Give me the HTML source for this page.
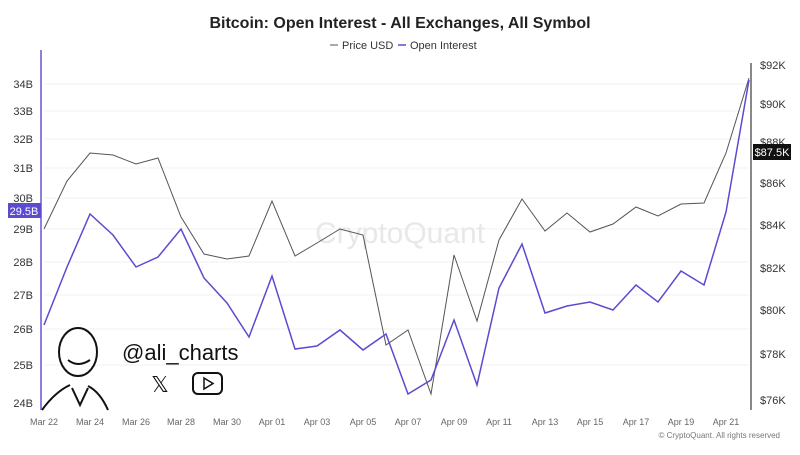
<!DOCTYPE html>
<html><head><meta charset="utf-8"><style>
body{margin:0;background:#fff;width:800px;height:450px;overflow:hidden;font-family:"Liberation Sans",sans-serif}
</style></head><body>
<svg width="800" height="450" xmlns="http://www.w3.org/2000/svg" font-family="Liberation Sans, sans-serif">
<text x="400" y="28" text-anchor="middle" font-size="16" font-weight="bold" fill="#222">Bitcoin: Open Interest - All Exchanges, All Symbol</text>
<line x1="330" y1="45" x2="338" y2="45" stroke="#555" stroke-width="1"/>
<text x="342" y="49" font-size="11" fill="#333">Price USD</text>
<line x1="398" y1="45" x2="406" y2="45" stroke="#5a4bd1" stroke-width="1.5"/>
<text x="410" y="49" font-size="11" fill="#333">Open Interest</text>
<g stroke="#f0f0f0" stroke-width="1">
<line x1="44" x2="749" y1="84" y2="84"/><line x1="44" x2="749" y1="111" y2="111"/><line x1="44" x2="749" y1="139" y2="139"/><line x1="44" x2="749" y1="168" y2="168"/><line x1="44" x2="749" y1="198" y2="198"/><line x1="44" x2="749" y1="229" y2="229"/><line x1="44" x2="749" y1="262" y2="262"/><line x1="44" x2="749" y1="295" y2="295"/><line x1="44" x2="749" y1="329" y2="329"/><line x1="44" x2="749" y1="365" y2="365"/>
</g>
<text x="400" y="243" text-anchor="middle" font-size="30" fill="#e8e8e8">CryptoQuant</text>
<line x1="41" y1="50" x2="41" y2="410" stroke="#8b7fe0" stroke-width="2"/>
<line x1="751" y1="63" x2="751" y2="410" stroke="#888" stroke-width="2"/>
<g font-size="11" fill="#333" text-anchor="end">
<text x="33" y="88">34B</text><text x="33" y="115">33B</text><text x="33" y="143">32B</text><text x="33" y="172">31B</text><text x="33" y="202">30B</text><text x="33" y="233">29B</text><text x="33" y="266">28B</text><text x="33" y="299">27B</text><text x="33" y="333">26B</text><text x="33" y="369">25B</text><text x="33" y="407">24B</text>
</g>
<rect x="8" y="203" width="33" height="15" fill="#5a4bd1"/>
<text x="24" y="215" text-anchor="middle" font-size="11" fill="#fff">29.5B</text>
<g font-size="11" fill="#333">
<text x="760" y="69">$92K</text><text x="760" y="108">$90K</text><text x="760" y="146">$88K</text><text x="760" y="187">$86K</text><text x="760" y="229">$84K</text><text x="760" y="272">$82K</text><text x="760" y="314">$80K</text><text x="760" y="358">$78K</text><text x="760" y="404">$76K</text>
</g>
<rect x="753" y="144" width="38" height="16" fill="#111"/>
<text x="772" y="156" text-anchor="middle" font-size="11" fill="#fff">$87.5K</text>
<g font-size="9" fill="#666" text-anchor="middle">
<text x="44" y="425">Mar 22</text><text x="90" y="425">Mar 24</text><text x="136" y="425">Mar 26</text><text x="181" y="425">Mar 28</text><text x="227" y="425">Mar 30</text><text x="272" y="425">Apr 01</text><text x="317" y="425">Apr 03</text><text x="363" y="425">Apr 05</text><text x="408" y="425">Apr 07</text><text x="454" y="425">Apr 09</text><text x="499" y="425">Apr 11</text><text x="545" y="425">Apr 13</text><text x="590" y="425">Apr 15</text><text x="636" y="425">Apr 17</text><text x="681" y="425">Apr 19</text><text x="726" y="425">Apr 21</text>
</g>
<text x="780" y="438" text-anchor="end" font-size="8" fill="#777">© CryptoQuant. All rights reserved</text>
<polyline fill="none" stroke="#555" stroke-width="1" points="44,229 67,181 90,153 113,155 136,164 158,158 181,217 204,254 227,259 249,256 272,201 295,256 317,243 340,229 363,235 386,345 408,330 431,394 454,255 477,321 499,240 522,199 545,231 567,213 590,232 613,224 636,207 658,216 681,204 704,203 726,153 749,78"/>
<polyline fill="none" stroke="#5a4bd1" stroke-width="1.5" points="44,325 67,267 90,214 113,235 136,267 158,257 181,229 204,278 227,303 249,337 272,276 295,349 317,346 340,330 363,350 386,334 408,394 431,380 454,320 477,385 499,288 522,244 545,313 567,306 590,302 613,310 636,285 658,302 681,271 704,285 726,212 749,80"/>
<g fill="none" stroke="#111" stroke-width="2">
<ellipse cx="78" cy="352" rx="19" ry="24" fill="#fff"/>
<path d="M42 410 Q55 392 70 385 M108 410 Q100 392 88 386 M72 388 L80 405 L88 388"/>
<path d="M68 360 Q78 368 90 360"/>
</g>
<text x="122" y="360" font-size="22" fill="#111">@ali_charts</text>
<text x="160" y="392" text-anchor="middle" font-size="22" fill="#111">𝕏</text>
<rect x="193" y="373" width="29" height="21" rx="5" fill="none" stroke="#111" stroke-width="2"/>
<path d="M204 378 L213 383.5 L204 389 Z" fill="none" stroke="#111" stroke-width="1.5"/>
</svg>
</body></html>
